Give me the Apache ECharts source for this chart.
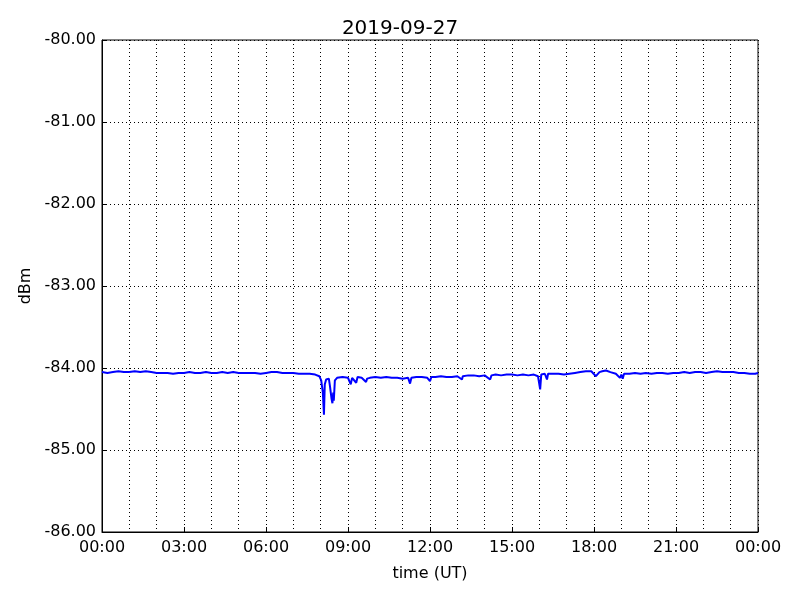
<!DOCTYPE html>
<html>
<head>
<meta charset="utf-8">
<script src="https://cdn.jsdelivr.net/npm/echarts@6/dist/echarts.min.js"></script>
<style>html,body{margin:0;padding:0;background:#fff}#c{width:800px;height:600px}</style>
</head>
<body>
<div id="c"></div>
<script>
var titleText = '2019-09-27';
var yTicks = [-86, -85, -84, -83, -82, -81, -80];
var xTickHours = [0, 3, 6, 9, 12, 15, 18, 21, 24];
var hours = [0.0,0.2,0.4,0.6,0.8,1.0,1.2,1.4,1.6,1.8,2.0,2.2,2.4,2.6,2.8,3.0,3.2,3.4,3.6,3.8,4.0,4.2,4.4,4.6,4.8,5.0,5.2,5.4,5.6,5.8,6.0,6.2,6.4,6.6,6.8,7.0,7.2,7.4,7.6,7.8,7.95,8.02,8.08,8.12,8.15,8.2,8.25,8.3,8.34,8.37,8.4,8.43,8.46,8.48,8.52,8.6,8.8,9.0,9.1,9.15,9.3,9.35,9.5,9.66,9.7,9.8,10.0,10.2,10.4,10.6,10.8,11.0,11.2,11.27,11.32,11.5,11.7,11.9,12.0,12.05,12.2,12.4,12.6,12.8,13.0,13.17,13.2,13.4,13.6,13.8,14.0,14.2,14.25,14.4,14.6,14.8,15.0,15.2,15.4,15.6,15.8,15.95,16.03,16.07,16.2,16.28,16.32,16.5,16.7,16.9,17.1,17.3,17.5,17.7,17.9,18.07,18.2,18.3,18.44,18.6,18.8,18.95,19.0,19.05,19.1,19.3,19.5,19.7,19.9,20.1,20.3,20.5,20.7,20.9,21.1,21.3,21.5,21.7,21.9,22.1,22.3,22.5,22.7,22.9,23.1,23.3,23.5,23.7,23.9,24.0];
var dBm = [-84.05,-84.06,-84.05,-84.04,-84.05,-84.05,-84.04,-84.05,-84.04,-84.05,-84.06,-84.06,-84.06,-84.07,-84.06,-84.06,-84.05,-84.06,-84.06,-84.05,-84.06,-84.06,-84.05,-84.06,-84.05,-84.06,-84.06,-84.06,-84.06,-84.07,-84.06,-84.05,-84.05,-84.06,-84.06,-84.06,-84.07,-84.07,-84.07,-84.08,-84.10,-84.15,-84.30,-84.57,-84.20,-84.14,-84.16,-84.13,-84.22,-84.30,-84.38,-84.43,-84.30,-84.40,-84.15,-84.12,-84.11,-84.12,-84.20,-84.12,-84.18,-84.11,-84.12,-84.17,-84.13,-84.12,-84.11,-84.12,-84.11,-84.12,-84.12,-84.13,-84.12,-84.19,-84.12,-84.11,-84.11,-84.12,-84.16,-84.11,-84.11,-84.10,-84.11,-84.11,-84.10,-84.14,-84.10,-84.09,-84.09,-84.10,-84.09,-84.14,-84.09,-84.08,-84.09,-84.08,-84.08,-84.09,-84.08,-84.09,-84.08,-84.10,-84.26,-84.08,-84.07,-84.14,-84.07,-84.07,-84.07,-84.08,-84.07,-84.06,-84.05,-84.04,-84.04,-84.10,-84.05,-84.04,-84.03,-84.05,-84.07,-84.12,-84.08,-84.13,-84.07,-84.07,-84.06,-84.07,-84.06,-84.07,-84.06,-84.06,-84.07,-84.06,-84.06,-84.05,-84.06,-84.05,-84.05,-84.06,-84.05,-84.04,-84.05,-84.05,-84.05,-84.06,-84.06,-84.07,-84.07,-84.06];
var xName = 'time (UT)';
var yName = 'dBm';

var seriesData = hours.map(function (h, i) { return [h, dBm[i]]; });
function pad(n) { return (n < 10 ? '0' : '') + n; }
var font = 'DejaVu Sans';
var dotted = { color: '#000', width: 1, type: [1, 3] };

var chart = echarts.init(document.getElementById('c'), null, { renderer: 'canvas' });
chart.setOption({
  animation: false,
  backgroundColor: '#fff',
  title: {
    text: titleText, left: 'center', top: 14,
    textStyle: { fontFamily: font, fontSize: 20, fontWeight: 'normal', color: '#000' }
  },
  grid: { left: 102, right: 42, top: 40, bottom: 68, show: true, borderColor: '#000', borderWidth: 1, backgroundColor: 'transparent' },
  xAxis: {
    type: 'value', min: xTickHours[0], max: xTickHours[xTickHours.length - 1], interval: 3,
    name: xName, nameLocation: 'middle', nameGap: 34,
    nameTextStyle: { fontFamily: font, fontSize: 16, color: '#000' },
    axisLine: { show: true, lineStyle: { color: '#000', width: 1 } },
    axisTick: { show: true, inside: true, length: 5, lineStyle: { color: '#000' } },
    axisLabel: { fontFamily: font, fontSize: 16, color: '#000', margin: 8,
      formatter: function (v) { return pad(v % 24) + ':00'; } },
    splitLine: { show: true, lineStyle: dotted },
    minorTick: { show: false, splitNumber: 3 },
    minorSplitLine: { show: true, lineStyle: dotted }
  },
  yAxis: {
    type: 'value', min: yTicks[0], max: yTicks[yTicks.length - 1], interval: 1,
    name: yName, nameLocation: 'middle', nameGap: 68, nameRotate: 90,
    nameTextStyle: { fontFamily: font, fontSize: 16, color: '#000' },
    axisLine: { show: true, lineStyle: { color: '#000', width: 1 } },
    axisTick: { show: true, inside: true, length: 5, lineStyle: { color: '#000' } },
    axisLabel: { fontFamily: font, fontSize: 16, color: '#000', margin: 6,
      formatter: function (v) { return v.toFixed(2); } },
    splitLine: { show: true, lineStyle: dotted }
  },
  series: [{
    type: 'line', data: seriesData, showSymbol: false, symbol: 'none',
    lineStyle: { color: '#0000ff', width: 2 }, itemStyle: { color: '#0000ff' }
  }]
});
</script>
</body>
</html>
